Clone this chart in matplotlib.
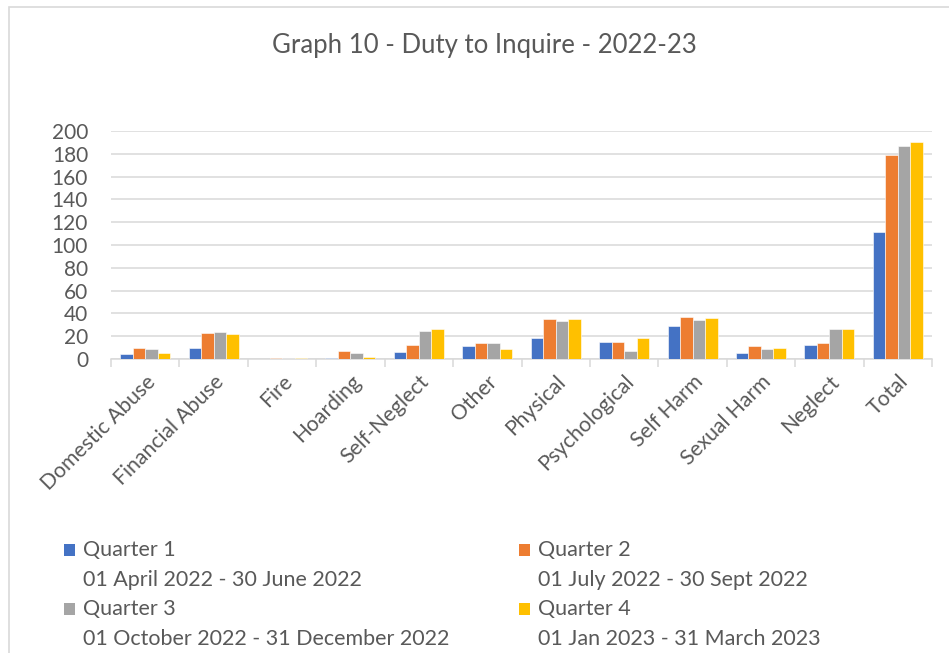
import numpy as np
import matplotlib.pyplot as plt
from matplotlib.patches import Rectangle

plt.rcParams['font.family'] = ['Lato', 'DejaVu Sans']

categories = ["Domestic Abuse", "Financial Abuse", "Fire", "Hoarding", "Self-Neglect",
              "Other", "Physical", "Psychological", "Self Harm", "Sexual Harm",
              "Neglect", "Total"]
q1 = [4, 10, 0, 1, 6, 11, 18, 15, 29, 5, 12, 111]
q2 = [10, 23, 1, 7, 12, 14, 35, 15, 37, 11, 14, 179]
q3 = [9, 24, 1, 5, 25, 14, 33, 7, 34, 9, 26, 187]
q4 = [5, 22, 1, 2, 26, 9, 35, 18, 36, 10, 26, 190]
series = [q1, q2, q3, q4]
names = ["Quarter 1", "Quarter 2", "Quarter 3", "Quarter 4"]
periods = ["01 April 2022 - 30 June 2022", "01 July 2022 - 30 Sept 2022",
           "01 October 2022 - 31 December 2022", "01 Jan 2023 - 31 March 2023"]
colors = ["#4472C4", "#ED7D31", "#A5A5A5", "#FFC000"]
yticks = list(range(0, 201, 20))

W, H = 949, 653
fig = plt.figure(figsize=(W / 100, H / 100), dpi=100)
ax = fig.add_axes([111 / W, 1 - 359 / H, (932 - 111) / W, (359 - 131) / H])

# chart border (Excel style)
fig.add_artist(Rectangle((9 / W, -0.1), 1.2, 1 - 7 / H + 0.1, transform=fig.transFigure,
                         fill=False, edgecolor="#d9d9d9", linewidth=1.2))

x = np.arange(len(categories))
bw = 0.183
for i, (vals, c) in enumerate(zip(series, colors)):
    ax.bar(x + (i - 1.5) * bw, vals, width=bw, color=c, edgecolor="white",
           linewidth=0.4, zorder=3)

ax.set_xlim(-0.5, len(categories) - 0.5)
ax.set_ylim(0, 200)
ax.set_yticks(yticks)
ax.yaxis.grid(True, color="#d9d9d9", linewidth=1.1, zorder=0)
ax.tick_params(axis="y", length=0, labelsize=15, labelcolor="#595959", pad=16.5)
for s in ["top", "right", "left"]:
    ax.spines[s].set_visible(False)
ax.spines["bottom"].set_color("#d9d9d9")
ax.spines["bottom"].set_linewidth(1.1)

ax.set_xticks(x)
ax.set_xticklabels(categories, rotation=45, ha="right", rotation_mode="anchor",
                   fontsize=15.2, color="#595959")
ax.tick_params(axis="x", which="major", length=0, pad=9)
ax.set_xticks(np.arange(-0.5, len(categories)), minor=True)
ax.tick_params(axis="x", which="minor", length=6, color="#d9d9d9", width=1.1)

fig.text(484 / W, 1 - 45 / H, "Graph 10 - Duty to Inquire - 2022-23", ha="center",
         va="center", fontsize=18.5, color="#595959")

# legend, laid out like the Excel one
col_x = [64, 519]
row_y = [550, 609]
for i in range(4):
    cx = col_x[i % 2]
    ry = row_y[i // 2]
    fig.add_artist(Rectangle((cx / W, 1 - (ry + 6) / H), 11 / W, 12 / H,
                             transform=fig.transFigure, facecolor=colors[i],
                             edgecolor="none"))
    fig.text((cx + 19) / W, 1 - ry / H, names[i], ha="left", va="center",
             fontsize=15.5, color="#595959")
    fig.text((cx + 19) / W, 1 - (ry + 30) / H, periods[i], ha="left", va="center",
             fontsize=15.5, color="#595959")

fig.savefig("out.png", dpi=100)
